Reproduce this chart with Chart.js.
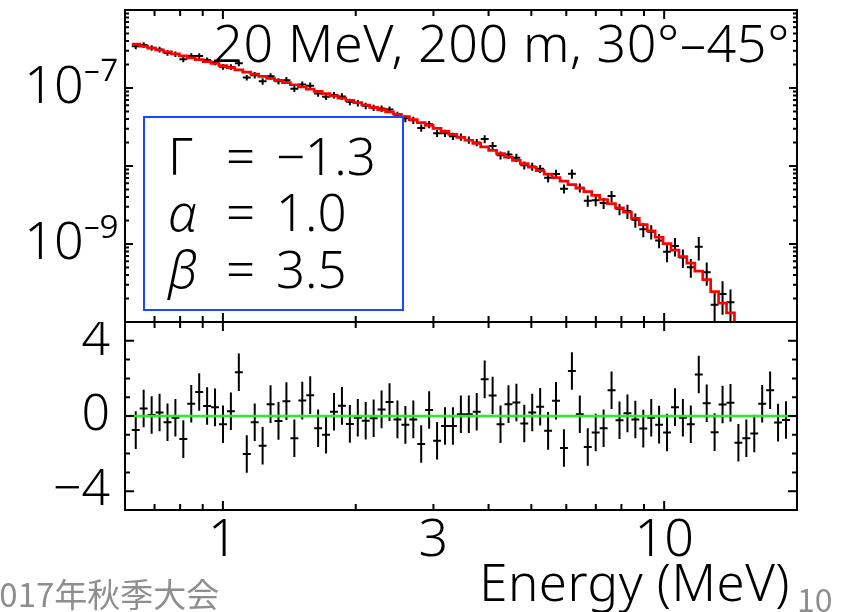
<!DOCTYPE html>
<html><head><meta charset="utf-8">
<script src="https://cdn.jsdelivr.net/npm/chart.js@4.4.1/dist/chart.umd.min.js"></script>
<style>
html,body{margin:0;padding:0;background:#fff;}
#wrap{position:relative;width:854px;height:612px;overflow:hidden;background:#fff;}
#cTop{position:absolute;left:0;top:0;}
#cBot{position:absolute;left:0;top:322px;}
.foot{position:absolute;color:#8e8e8e;white-space:nowrap;line-height:1;}
</style></head><body>
<div id="wrap">
<canvas id="cBot" width="854" height="290"></canvas>
<canvas id="cTop" width="854" height="330"></canvas>
<div class="foot" style="left:-19px;top:569px;font:33px 'Noto Sans CJK JP';">2017年秋季大会</div>
<div class="foot" style="left:797px;top:575px;font:32px 'Noto Sans CJK JP';">10</div>
</div>
<script>
// ---- data ----
const energy = [0.6346,0.6613,0.6895,0.7186,0.7490,0.7805,0.8134,0.8478,0.8837,0.9210,
0.9598,1.0005,1.0426,1.0867,1.1327,1.1807,1.2303,1.2823,1.3366,1.3930,
1.4519,1.5132,1.5772,1.6436,1.7131,1.7855,1.8611,1.9397,2.0218,2.1068,
2.1960,2.2888,2.3857,2.4863,2.5915,2.7012,2.8145,2.9336,3.0577,3.1864,
3.3213,3.4619,3.6084,3.7604,3.9196,4.0855,4.2577,4.4379,4.6257,4.8195,
5.0234,5.2360,5.4576,5.6875,5.9282,6.1791,6.4394,6.7119,6.9960,7.2907,
7.5993,7.9209,8.2562,8.6040,8.9681,9.3477,9.7386,10.151,10.580,11.026,
11.492,11.979,12.486,13.011,13.562,14.136,14.731,15.354,16.004,16.678,
17.383,18.119,18.886];
const flux = [3.43e-7,3.56e-7,3.27e-7,3.12e-7,2.82e-7,2.72e-7,2.34e-7,2.58e-7,2.57e-7,2.28e-7,
2.14e-7,1.87e-7,1.86e-7,2.07e-7,1.36e-7,1.46e-7,1.22e-7,1.41e-7,1.22e-7,1.26e-7,
9.81e-8,1.11e-7,1.07e-7,8.53e-8,7.73e-8,8.11e-8,7.80e-8,6.66e-8,6.42e-8,5.91e-8,
5.59e-8,5.46e-8,5.29e-8,4.54e-8,4.08e-8,3.86e-8,3.08e-8,3.42e-8,2.63e-8,2.63e-8,
2.41e-8,2.36e-8,2.16e-8,2.00e-8,2.22e-8,1.81e-8,1.37e-8,1.40e-8,1.28e-8,1.02e-8,
9.86e-9,9.24e-9,7.09e-9,7.91e-9,5.11e-9,7.94e-9,5.27e-9,3.59e-9,3.65e-9,3.35e-9,
4.11e-9,2.80e-9,2.64e-9,2.04e-9,1.54e-9,1.44e-9,1.11e-9,7.98e-10,9.44e-10,6.72e-10,
5.05e-10,9.21e-10,4.35e-10,1.67e-10,2.29e-10,1.79e-10,3.99e-11,3.24e-11,2.63e-11,4.71e-11,
5.06e-11,1.29e-11,9.9e-12];
const fluxErr = [2.85e-8,2.96e-8,2.71e-8,2.59e-8,2.34e-8,2.26e-8,1.94e-8,2.14e-8,2.13e-8,1.89e-8,
1.77e-8,1.55e-8,1.54e-8,1.72e-8,1.13e-8,1.39e-8,1.16e-8,1.34e-8,1.15e-8,1.20e-8,
9.32e-9,1.06e-8,1.02e-8,8.10e-9,7.34e-9,7.70e-9,7.41e-9,6.33e-9,6.10e-9,5.61e-9,
5.31e-9,5.18e-9,5.03e-9,4.31e-9,4.33e-9,4.09e-9,3.26e-9,3.63e-9,2.79e-9,2.78e-9,
2.55e-9,2.50e-9,2.29e-9,2.12e-9,2.62e-9,2.14e-9,1.62e-9,1.66e-9,1.51e-9,1.20e-9,
1.16e-9,1.09e-9,9.42e-10,1.05e-9,6.79e-10,1.06e-9,7.01e-10,5.86e-10,5.94e-10,5.45e-10,
6.69e-10,4.56e-10,5.48e-10,4.25e-10,3.20e-10,3.00e-10,2.31e-10,2.15e-10,2.54e-10,1.81e-10,
1.36e-10,3.05e-10,1.44e-10,7.64e-11,1.05e-10,8.18e-11,2.49e-11,2.02e-11,1.65e-11,2.94e-11,
3.16e-11,8.1e-12,6.2e-12];
const model = [3.65e-7,3.45e-7,3.25e-7,3.07e-7,2.90e-7,2.74e-7,2.59e-7,2.44e-7,2.31e-7,2.18e-7,
2.06e-7,1.94e-7,1.82e-7,1.71e-7,1.60e-7,1.51e-7,1.41e-7,1.33e-7,1.25e-7,1.17e-7,
1.10e-7,1.03e-7,9.66e-8,9.07e-8,8.49e-8,7.93e-8,7.42e-8,6.93e-8,6.48e-8,6.05e-8,
5.65e-8,5.28e-8,4.94e-8,4.61e-8,4.29e-8,3.93e-8,3.60e-8,3.31e-8,3.03e-8,2.78e-8,
2.55e-8,2.33e-8,2.14e-8,1.95e-8,1.76e-8,1.59e-8,1.44e-8,1.30e-8,1.18e-8,1.07e-8,
9.64e-9,8.72e-9,7.87e-9,7.10e-9,6.40e-9,5.78e-9,5.21e-9,4.70e-9,4.21e-9,3.72e-9,
3.29e-9,2.90e-9,2.56e-9,2.13e-9,1.77e-9,1.47e-9,1.22e-9,1.01e-9,8.33e-10,6.88e-10,
5.68e-10,4.49e-10,3.49e-10,2.45e-10,1.75e-10,1.31e-10,9.22e-11,6.50e-11,4.56e-11,3.21e-11,
2.25e-11,1.59e-11,1.12e-11];
const residual = [-0.75,0.40,0.05,0.19,-0.33,-0.09,-1.23,0.65,1.28,0.53,
0.46,-0.44,0.25,2.33,-2.02,-0.33,-1.58,0.63,-0.26,0.79,
-1.18,0.82,1.11,-0.65,-1.00,0.23,0.54,-0.42,-0.09,-0.25,
-0.12,0.35,0.74,-0.18,-0.47,-0.18,-1.49,0.32,-1.32,-0.53,
-0.53,0.09,0.09,0.23,1.95,1.09,-0.44,0.63,0.72,-0.40,
0.19,0.49,-0.79,0.81,-1.70,2.39,0.09,-1.65,-0.88,-0.65,
1.37,-0.23,0.14,-0.19,-0.67,-0.09,-0.46,-0.88,0.47,-0.09,
-0.44,2.21,0.68,-0.86,0.61,0.70,-1.42,-1.18,-0.93,0.65,
1.37,-0.35,-0.21];
const residualErr = 1;
const xTickLabels = [1, 3, 10];
const yTopTickLabels = [1e-9, 1e-7];
const yResTickLabels = [-4, 0, 4];
const titleText = '20 MeV, 200 m, 30°–45°';
const paramNames = ['Γ', 'α', 'β'];
const paramValues = ['−1.3', '1.0', '3.5'];
const xTitle = 'Energy (MeV)';

// ---- helpers ----
const FONT = "'Noto Sans', 'DejaVu Sans', sans-serif";
const X_MIN = 0.6, X_MAX = 20;
const bins = energy.map((e, i) => {
  const lo = i > 0 ? Math.sqrt(energy[i-1]*e) : e*Math.sqrt(e/energy[1]);
  const hi = i < energy.length-1 ? Math.sqrt(e*energy[i+1]) : e*Math.sqrt(e/energy[i-1]);
  return [lo, hi];
});
const modelSteps = [];
model.forEach((m, i) => { modelSteps.push({x: bins[i][0], y: m}); modelSteps.push({x: bins[i][1], y: m}); });

function seg(ctx, x1, y1, x2, y2){ ctx.moveTo(x1, y1); ctx.lineTo(x2, y2); }
function noPad(s){ s.paddingTop = 0; s.paddingBottom = 0; s.paddingLeft = 0; s.paddingRight = 0; }

const errBars = {
  id: 'errBars',
  beforeDatasetsDraw(chart){
    const {ctx, chartArea: a, scales: {x, y}} = chart;
    const ds = chart.data.datasets.find(d => d.errs !== undefined);
    ctx.save();
    ctx.beginPath(); ctx.rect(a.left, a.top, a.right - a.left, a.bottom - a.top); ctx.clip();
    ctx.strokeStyle = '#000'; ctx.lineWidth = 2;
    ctx.beginPath();
    ds.data.forEach((p, i) => {
      const e = Array.isArray(ds.errs) ? ds.errs[i] : ds.errs;
      const px = x.getPixelForValue(p.x), py = y.getPixelForValue(p.y);
      const lo = p.y - e;
      const yl = (y.type === 'logarithmic' && lo <= 0) ? a.bottom + 50 : y.getPixelForValue(lo);
      const yh = y.getPixelForValue(p.y + e);
      seg(ctx, x.getPixelForValue(bins[i][0]), py, x.getPixelForValue(bins[i][1]), py);
      seg(ctx, px, yh, px, yl);
    });
    ctx.stroke();
    ctx.restore();
  }
};

function drawXTicks(ctx, x, a){
  const vals = [0.7,0.8,0.9,1,2,3,4,5,6,7,8,9,10];
  ctx.beginPath();
  vals.forEach(v => {
    const px = x.getPixelForValue(v);
    const L = (v === 1 || v === 10) ? 9 : 6;
    seg(ctx, px, a.top, px, a.top + L);
    seg(ctx, px, a.bottom, px, a.bottom - L);
  });
  ctx.stroke();
}

const frameTop = {
  id: 'frameTop',
  afterDatasetsDraw(chart){
    const {ctx} = chart;
    ctx.save();
    ctx.fillStyle = '#000';
    ctx.font = '300 52px ' + FONT;
    ctx.letterSpacing = '0.6px';
    ctx.textAlign = 'right'; ctx.textBaseline = 'alphabetic';
    ctx.fillText(titleText, 790, 62);
    ctx.letterSpacing = '0px';
    ctx.fillStyle = '#fff';
    ctx.fillRect(144, 117, 259, 193);
    ctx.strokeStyle = '#1a46ff'; ctx.lineWidth = 2;
    ctx.strokeRect(144, 117, 259, 193);
    ctx.fillStyle = '#000';
    ctx.textAlign = 'left';
    const base = [175, 231, 288];
    paramNames.forEach((n, i) => {
      ctx.font = (i === 0 ? '300 ' : 'italic 300 ') + '51px ' + FONT;
      ctx.fillText(n, 168, base[i]);
      ctx.font = '300 51px ' + FONT;
      ctx.fillText('=', 226, base[i]);
      ctx.fillText(paramValues[i], 276, base[i]);
    });
    ctx.restore();
  },
  afterDraw(chart){
    const {ctx, chartArea: a, scales: {x, y}} = chart;
    ctx.save();
    ctx.strokeStyle = '#000'; ctx.lineWidth = 2;
    drawXTicks(ctx, x, a);
    ctx.beginPath();
    for (let d = -10; d <= -7; d++) {
      for (let m = 1; m <= 9; m++) {
        const py = y.getPixelForValue(m * Math.pow(10, d));
        const L = m === 1 ? 8 : 4;
        seg(ctx, a.left, py, a.left + L, py);
        seg(ctx, a.right, py, a.right - L, py);
      }
    }
    ctx.stroke();
    ctx.strokeRect(a.left, a.top, a.right - a.left, a.bottom - a.top);
    ctx.restore();
  }
};

const frameBot = {
  id: 'frameBot',
  afterDraw(chart){
    const {ctx, chartArea: a, scales: {x, y}} = chart;
    ctx.save();
    ctx.strokeStyle = '#000'; ctx.lineWidth = 2;
    drawXTicks(ctx, x, a);
    ctx.beginPath();
    for (let v = -4; v <= 4; v++) {
      const py = y.getPixelForValue(v);
      const L = (v % 4 === 0) ? 9 : 5;
      seg(ctx, a.left, py, a.left + L, py);
      seg(ctx, a.right, py, a.right - L, py);
    }
    ctx.stroke();
    ctx.strokeRect(a.left, a.top, a.right - a.left, a.bottom - a.top);
    ctx.fillStyle = '#000';
    ctx.font = '300 51px ' + FONT;
    ctx.letterSpacing = '0.5px';
    ctx.textAlign = 'right'; ctx.textBaseline = 'alphabetic';
    ctx.fillText(xTitle, 790, 279);
    ctx.restore();
  }
};

const supers = {'-':'⁻','0':'⁰','1':'¹','2':'²','3':'³','4':'⁴','5':'⁵','6':'⁶','7':'⁷','8':'⁸','9':'⁹'};
function powLabel(v){
  const e = String(Math.round(Math.log10(v)));
  return '10' + e.split('').map(c => supers[c]).join('');
}

// ---- upper panel ----
new Chart(document.getElementById('cTop'), {
  type: 'scatter',
  data: { datasets: [
    { label: 'data', data: energy.map((e, i) => ({x: e, y: flux[i]})), errs: fluxErr,
      pointRadius: 0, showLine: false, borderColor: '#000' },
    { label: 'model', type: 'line', data: modelSteps, borderColor: '#ff0000', borderWidth: 2.7,
      pointRadius: 0, fill: false, tension: 0, showLine: true }
  ]},
  options: {
    responsive: false, animation: false,
    layout: { padding: { left: 0, top: 10, right: 57, bottom: 8 } },
    plugins: { legend: { display: false }, tooltip: { enabled: false } },
    scales: {
      x: { type: 'logarithmic', min: X_MIN, max: X_MAX, display: false },
      y: { type: 'logarithmic', min: 1e-10, max: 1e-6, position: 'left',
        afterFit(s){ s.width = 125; noPad(s); },
        afterBuildTicks(s){ s.ticks = yTopTickLabels.map(v => ({value: v})); },
        grid: { display: false, drawTicks: false }, border: { display: false },
        ticks: { autoSkip: false, padding: 7, color: '#000',
          font: { family: FONT, size: 52, weight: 300 }, callback: v => powLabel(v) } }
    }
  },
  plugins: [errBars, frameTop]
});

// ---- residual panel ----
new Chart(document.getElementById('cBot'), {
  type: 'scatter',
  data: { datasets: [
    { label: 'residual', data: energy.map((e, i) => ({x: e, y: residual[i]})), errs: residualErr,
      pointRadius: 0, showLine: false },
    { label: 'zero', type: 'line', data: [{x: X_MIN, y: 0}, {x: X_MAX, y: 0}],
      borderColor: '#22f022', borderWidth: 2.5, pointRadius: 0, fill: false }
  ]},
  options: {
    responsive: false, animation: false,
    layout: { padding: { left: 0, top: 0, right: 57, bottom: 0 } },
    plugins: { legend: { display: false }, tooltip: { enabled: false } },
    scales: {
      x: { type: 'logarithmic', min: X_MIN, max: X_MAX, position: 'bottom',
        afterFit(s){ s.height = 102; noPad(s); },
        afterBuildTicks(s){ s.ticks = xTickLabels.map(v => ({value: v})); },
        grid: { display: false, drawTicks: false }, border: { display: false },
        ticks: { autoSkip: false, maxRotation: 0, padding: 0, color: '#000',
          font: { family: FONT, size: 52, weight: 300 }, callback: v => String(v) } },
      y: { type: 'linear', min: -5, max: 5, position: 'left',
        afterFit(s){ s.width = 125; noPad(s); },
        afterBuildTicks(s){ s.ticks = yResTickLabels.map(v => ({value: v})); },
        grid: { display: false, drawTicks: false }, border: { display: false },
        ticks: { autoSkip: false, padding: 15, color: '#000',
          font: { family: FONT, size: 50, weight: 300 }, callback: v => (v < 0 ? '−' + Math.abs(v) : String(v)) } }
    }
  },
  plugins: [errBars, frameBot]
});
</script>
</body></html>
